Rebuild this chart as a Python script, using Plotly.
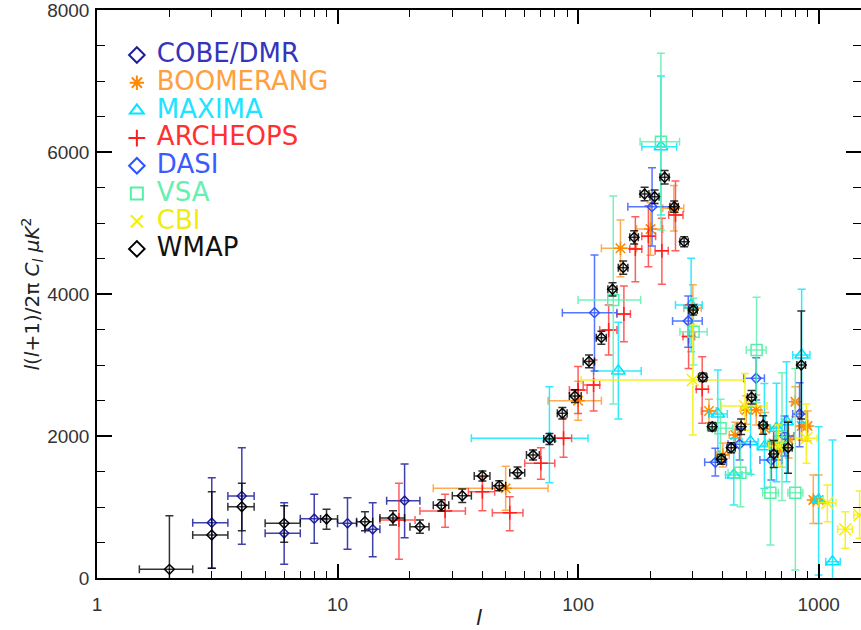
import math
import plotly.graph_objects as go

# ---------------- data ----------------
# multipole l, band power l(l+1)C_l/2pi [uK^2], errors (+/-), bin edges
cobe_l  = [3, 4, 6, 8, 11, 14, 19]
cobe_C  = [779, 1155, 629, 835, 770, 686, 1089]
cobe_up = [634, 680, 432, 344, 361, 375, 517]
cobe_dn = [640, 681, 436, 347, 366, 386, 521]
cobe_lo = [2.5, 3.5, 5, 7, 10, 13, 16]
cobe_hi = [3.5, 4.5, 7, 9, 12, 15, 22]

boom_l  = [50, 100, 150, 200, 250, 300, 350, 400, 450, 500, 550, 600, 650, 700, 750, 800, 850, 900, 950, 1000]
boom_C  = [1263, 2497, 4644, 4915, 5207, 3800, 2352, 1732, 2014, 2366, 2366, 2100, 1897, 1800, 1950, 2483, 2141, 2141, 1099, 1099]
boom_up = [310, 275, 400, 370, 320, 330, 165, 170, 180, 200, 210, 230, 230, 240, 260, 210, 200, 210, 350, 350]
boom_dn = [310, 275, 400, 370, 320, 330, 165, 170, 180, 200, 210, 230, 230, 240, 260, 210, 200, 210, 330, 330]
boom_lo = [25, 75, 125, 175, 225, 275, 325, 375, 425, 475, 525, 575, 625, 675, 725, 775, 825, 875, 925, 975]
boom_hi = [75, 125, 175, 225, 275, 325, 375, 425, 475, 525, 575, 625, 675, 725, 775, 825, 875, 925, 975, 1025]

max_l  = [76, 147, 221, 295, 381, 444, 521, 595, 668, 735, 850, 1000, 1142]
max_C  = [1967, 2915, 6075, 3845, 2310, 1450, 1920, 1850, 2108, 2202, 3141, 1099, 230]
max_up = [728, 686, 995, 660, 620, 517, 490, 890, 634, 845, 925, 1032, 1714]
max_dn = [624, 676, 962, 660, 648, 422, 460, 590, 751, 845, 950, 1057, 1000]
max_lo = [36, 116, 184, 254, 349, 410, 480, 555, 630, 700, 780, 960, 1070]
max_hi = [110, 183, 257, 328, 417, 480, 560, 635, 705, 775, 920, 1040, 1230]

arch_l  = [18, 28, 40, 52, 70, 87, 100, 116, 134, 155, 173, 196, 223, 254, 288, 328]
arch_C  = [817, 944, 1216, 920, 1615, 1967, 2648, 2718, 3493, 3718, 4634, 4815, 4610, 5113, 3400, 2658]
arch_up = [516, 235, 211, 225, 220, 291, 330, 352, 352, 395, 455, 429, 456, 479, 450, 459]
arch_dn = [554, 230, 268, 254, 225, 267, 330, 366, 352, 390, 461, 430, 473, 503, 450, 479]
arch_lo = [15, 22, 35, 44, 60, 80, 92, 105, 123, 145, 164, 184, 209, 238, 273, 310]
arch_hi = [21, 34, 45, 59, 80, 94, 109, 123, 145, 165, 184, 210, 237, 273, 305, 348]

dasi_l  = [117, 203, 287, 372, 469, 550, 636, 722, 833]
dasi_C  = [3737, 5230, 3620, 1629, 1883, 2813, 1662, 2000, 2310]
dasi_up = [812, 549, 352, 198, 220, 290, 258, 282, 441]
dasi_dn = [822, 554, 371, 192, 220, 306, 282, 282, 460]
dasi_lo = [86, 161, 247, 336, 420, 488, 570, 650, 780]
dasi_hi = [145, 250, 328, 414, 520, 595, 705, 790, 890]

vsa_l  = [140, 221, 302, 391, 473, 552, 630, 704, 800]
vsa_C  = [3915, 6145, 3469, 2108, 1483, 3211, 1201, 1990, 1201]
vsa_up = [1465, 1245, 470, 409, 414, 742, 736, 900, 1750]
vsa_dn = [1465, 1244, 470, 400, 479, 742, 736, 900, 1090]
vsa_lo = [100, 181, 265, 345, 420, 500, 585, 660, 745]
vsa_hi = [182, 264, 344, 440, 525, 605, 680, 750, 860]

cbi_l  = [300, 494, 680, 889, 1087, 1290, 1480]
cbi_C  = [2789, 2422, 1860, 1967, 1061, 686, 887]
cbi_up = [775, 460, 300, 484, 250, 248, 338]
cbi_dn = [775, 340, 300, 352, 268, 268, 328]
cbi_lo = [103, 394, 620, 800, 1000, 1200, 1400]
cbi_hi = [494, 610, 740, 985, 1180, 1380, 1600]

wmap_l  = [2, 3, 4, 6, 9, 13, 17, 22, 27, 33, 40, 47, 56, 65, 76, 86, 97, 111, 125, 139,
           154, 171, 189, 208, 229, 251, 276, 301, 330, 361, 394, 433, 476, 526, 588, 651, 746, 847]
wmap_C  = [122, 606, 1004, 770, 831, 793, 845, 723, 1023, 1159, 1437, 1300, 1483, 1732, 1958, 2320, 2563, 3050, 3385, 4066,
           4371, 4798, 5408, 5370, 5644, 5230, 4737, 3775, 2827, 2131, 1672, 1835, 2131, 2545, 2155, 1746, 1835, 3000]
wmap_up = [755, 610, 329, 248, 136, 141, 103, 94, 80, 94, 70, 70, 82, 70, 78, 80, 90, 90, 92, 94,
           94, 94, 94, 94, 94, 80, 70, 70, 60, 60, 70, 70, 110, 95, 130, 190, 360, 760]
wmap_dn = [755, 470, 338, 267, 145, 127, 99, 94, 80, 94, 70, 70, 82, 70, 78, 80, 90, 90, 92, 94,
           94, 94, 94, 94, 94, 80, 70, 70, 60, 60, 70, 70, 110, 95, 130, 190, 360, 760]
wmap_lo = [1.5, 2.5, 3.5, 5, 8.5, 12, 15, 20, 25, 30, 37, 44, 52, 61, 72, 82, 92, 105, 119, 133,
           147, 164, 181, 199, 219, 241, 265, 289, 317, 347, 379, 416, 458, 506, 566, 627, 716, 812]
wmap_hi = [2.5, 3.5, 4.5, 7, 10, 14, 19, 24, 29, 36, 43, 50, 60, 69, 80, 90, 103, 117, 131, 145,
           161, 178, 197, 217, 239, 261, 287, 313, 343, 375, 409, 450, 494, 546, 610, 675, 776, 882]

x_major = [1, 10, 100, 1000]
x_minor = [2, 3, 4, 5, 6, 7, 8, 9, 20, 30, 40, 50, 60, 70, 80, 90, 200, 300, 400, 500, 600, 700, 800, 900]
x_max = 1500
y_major = [0, 2000, 4000, 6000, 8000]
y_max = 8000

# ---------------- figure ----------------
fig = go.Figure()


def add(name, l, C, up, dn, lo, hi, symbol, size, color, ecolor, tcolor, lw=1.5):
    fig.add_trace(go.Scatter(
        x=l, y=C, mode="markers",
        name=f"<span style='color:{tcolor};font-size:26px'>{name}</span>",
        marker=dict(symbol=symbol, size=size, color=color,
                    line=dict(color=color, width=lw)),
        error_y=dict(type="data", symmetric=False, array=up, arrayminus=dn,
                     color=ecolor, thickness=1.5, width=4),
        error_x=dict(type="data", symmetric=False,
                     array=[h - v for h, v in zip(hi, l)],
                     arrayminus=[v - a for v, a in zip(l, lo)],
                     color=ecolor, thickness=1.5, width=4),
    ))


add("COBE/DMR", cobe_l, cobe_C, cobe_up, cobe_dn, cobe_lo, cobe_hi,
    "diamond-open", 7, "#1e1e9c", "rgba(30,30,156,0.85)", "#3434bc")
add("BOOMERANG", boom_l, boom_C, boom_up, boom_dn, boom_lo, boom_hi,
    "asterisk-open", 11, "#ff8a00", "rgba(255,150,40,0.8)", "#ffa040")
add("MAXIMA", max_l, max_C, max_up, max_dn, max_lo, max_hi,
    "triangle-up-open", 12, "#00e4ff", "rgba(0,228,255,0.8)", "#20e4ff")
add("ARCHEOPS", arch_l, arch_C, arch_up, arch_dn, arch_lo, arch_hi,
    "cross-thin-open", 10, "#ff1e1e", "rgba(255,40,40,0.75)", "#ff3030")
add("DASI", dasi_l, dasi_C, dasi_up, dasi_dn, dasi_lo, dasi_hi,
    "diamond-open", 7.5, "#2c54ff", "rgba(44,84,255,0.8)", "#3a5cff")
add("VSA", vsa_l, vsa_C, vsa_up, vsa_dn, vsa_lo, vsa_hi,
    "square-open", 11, "#55f0a8", "rgba(85,240,168,0.8)", "#66f0b0")
add("CBI", cbi_l, cbi_C, cbi_up, cbi_dn, cbi_lo, cbi_hi,
    "x-thin-open", 12, "#f4f000", "rgba(244,240,0,0.85)", "#f0ec10")
add("WMAP", wmap_l, wmap_C, wmap_up, wmap_dn, wmap_lo, wmap_hi,
    "diamond-open", 7.5, "#000000", "rgba(0,0,0,0.8)", "#111111")

axis_common = dict(
    showline=True, linecolor="black", linewidth=1.5, mirror="ticks",
    ticks="inside", tickcolor="black", tickwidth=1.5,
    showgrid=False, zeroline=False, ticklabeloverflow="allow",
    tickfont=dict(family="Liberation Sans", size=19, color="#333333"),
)

fig.update_xaxes(
    type="log", range=[0, math.log10(x_max)],
    tickmode="array", tickvals=x_major, ticktext=[str(v) for v in x_major],
    ticklen=14, ticklabelstandoff=8,
    minor=dict(tickmode="array", tickvals=x_minor, ticks="inside", ticklen=7,
               tickcolor="black", tickwidth=1.2, showgrid=False),
    title=dict(text="<i>l</i>", font=dict(family="DejaVu Sans", size=22, color="#222"),
               standoff=0),
    **axis_common,
)
fig.update_yaxes(
    range=[0, y_max], tickmode="array", tickvals=y_major,
    ticktext=[str(v) for v in y_major],
    ticklen=15, ticklabelstandoff=2,
    minor=dict(dtick=500, ticks="inside", ticklen=8, tickcolor="black",
               tickwidth=1.2, showgrid=False),
    title=dict(text="<i>l</i>(<i>l</i>+1)/2π <i>C<sub>l</sub></i> <i>μK</i><sup>2</sup>",
               font=dict(family="DejaVu Sans", size=20, color="#222"), standoff=2),
    **axis_common,
)

fig.update_layout(
    width=861, height=630,
    margin=dict(l=97, r=0, t=10, b=52, autoexpand=False),
    paper_bgcolor="white", plot_bgcolor="white",
    font=dict(family="DejaVu Sans", color="#222"),
    showlegend=True,
    legend=dict(x=0.026, y=0.954, xanchor="left", yanchor="top",
                bgcolor="rgba(0,0,0,0)", borderwidth=0,
                font=dict(family="DejaVu Sans", size=19),
                itemsizing="constant", tracegroupgap=0),
)

fig.write_html("out.html", config={"displayModeBar": False},
               post_script="document.body.style.margin='0px';document.body.style.overflow='hidden';")
